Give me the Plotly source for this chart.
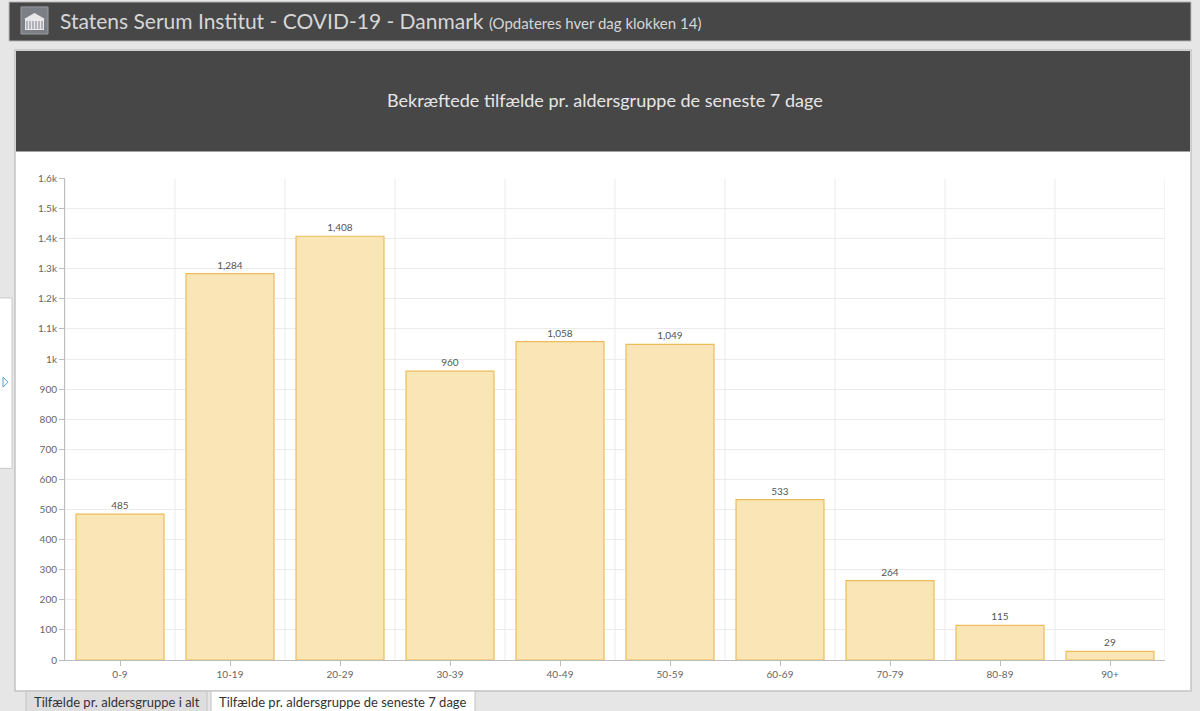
import plotly.graph_objects as go

age_groups = ["0-9", "10-19", "20-29", "30-39", "40-49", "50-59", "60-69", "70-79", "80-89", "90+"]
cases_7d = [485, 1284, 1408, 960, 1058, 1049, 533, 264, 115, 29]
y_tick_vals = [0, 100, 200, 300, 400, 500, 600, 700, 800, 900, 1000, 1100, 1200, 1300, 1400, 1500, 1600]
y_tick_text = ["0", "100", "200", "300", "400", "500", "600", "700", "800", "900",
               "1k", "1.1k", "1.2k", "1.3k", "1.4k", "1.5k", "1.6k"]

W, H = 1200, 711
FONT = "Lato"
# vertical compensation for the capture (observed: shown = 7.06 + 0.980 * drawn)
VA, VB = 7.06, 0.980


def px(x):
    return x / W


def py(y):
    yd = (y - VA) / VB
    return (H - yd) / H


def rect(x0, y0, x1, y1, fill, line=None, lw=1):
    return dict(type="rect", xref="paper", yref="paper",
                x0=px(x0), x1=px(x1), y0=py(y1), y1=py(y0),
                fillcolor=fill, line=dict(color=line or fill, width=lw if line else 0),
                layer="below")


fig = go.Figure()
fig.add_trace(go.Bar(
    x=age_groups, y=cases_7d,
    marker=dict(color="#fae5b6", line=dict(color="#ecbd5a", width=1.2)),
    text=[f"{v:,}" for v in cases_7d], textposition="outside",
    textfont=dict(size=10, color="#555555", family=FONT),
    cliponaxis=False, hoverinfo="x+y",
))

shapes = [
    rect(-5, -20, 1210, 740, "#e6e6e6"),
    rect(9, 3, 1191, 42, "#474747", "#bdbdbd", 1),
    rect(21, 8, 48, 35, "#7d7f86", "#9a9ca3", 1),
    rect(15, 51, 1191, 690, "#ffffff", "#c4c4c4", 1.5),
    rect(16, 52, 1190, 152, "#474747"),
    rect(-2, 298, 12, 468, "#ffffff", "#c8c8c8", 1),
    rect(26, 690, 207, 715, "#dedede", "#c2c2c2", 1),
    rect(211, 690, 475, 715, "#ffffff", "#c2c2c2", 1),
]
shapes.append(dict(type="rect", xref="paper", yref="paper", x0=px(25), x1=px(44), y0=py(31), y1=py(20),
                   fillcolor="#e8e8ea", line=dict(width=0), layer="above"))
shapes.append(dict(type="path", xref="paper", yref="paper",
                   path=f"M {px(24)},{py(20)} L {px(34.5)},{py(14)} L {px(45)},{py(20)} Z",
                   fillcolor="#e8e8ea", line=dict(width=0), layer="above"))
for cx in [27, 30, 33, 36, 39, 42]:
    shapes.append(dict(type="line", xref="paper", yref="paper", x0=px(cx), x1=px(cx), y0=py(22), y1=py(30),
                       line=dict(color="#7d7f86", width=1), layer="above"))
shapes.append(dict(type="path", xref="paper", yref="paper",
                   path=f"M {px(3)},{py(377)} L {px(8)},{py(382)} L {px(3)},{py(387)} Z",
                   fillcolor="rgba(0,0,0,0)", line=dict(color="#5a9fd4", width=1), layer="above"))

annotations = [
    dict(x=px(58), y=py(22), xref="paper", yref="paper", xanchor="left", yanchor="middle",
         showarrow=False,
         text="Statens Serum Institut - COVID-19 - Danmark <span style='font-size:15px'>(Opdateres hver dag klokken 14)</span>",
         font=dict(size=21, color="#d6d6d6", family=FONT)),
    dict(x=px(605), y=py(101), xref="paper", yref="paper", xanchor="center", yanchor="middle",
         showarrow=False, text="Bekræftede tilfælde pr. aldersgruppe de seneste 7 dage",
         font=dict(size=18, color="#e6e6e6", family=FONT)),
    dict(x=px(117), y=py(701), xref="paper", yref="paper", xanchor="center", yanchor="middle",
         showarrow=False, text="Tilfælde pr. aldersgruppe i alt",
         font=dict(size=13, color="#333333", family=FONT)),
    dict(x=px(343), y=py(701), xref="paper", yref="paper", xanchor="center", yanchor="middle",
         showarrow=False, text="Tilfælde pr. aldersgruppe de seneste 7 dage",
         font=dict(size=13, color="#333333", family=FONT)),
]

for i in range(len(age_groups) + 1):
    shapes.append(dict(type="line", xref="x", yref="y", x0=i - 0.5, x1=i - 0.5, y0=0, y1=1600,
                       line=dict(color="#ebebeb", width=1), layer="below"))

fig.update_layout(
    width=W, height=H, margin=dict(l=0, r=0, t=0, b=0, pad=0),
    paper_bgcolor="#e6e6e6", plot_bgcolor="rgba(0,0,0,0)",
    font=dict(family=FONT, color="#666666"),
    showlegend=False, bargap=0.2,
    shapes=shapes, annotations=annotations,
    xaxis=dict(domain=[px(65), px(1165)], range=[-0.5, 9.5], showgrid=False,
               showline=True, linecolor="#bdbdbd", linewidth=1,
               ticks="outside", ticklen=5, tickcolor="#bdbdbd",
               tickfont=dict(size=10, color="#666666", family=FONT)),
    yaxis=dict(domain=[py(659), py(179)], range=[0, 1600],
               tickvals=y_tick_vals, ticktext=y_tick_text,
               showgrid=True, gridcolor="#ebebeb", gridwidth=1,
               showline=True, linecolor="#bdbdbd", linewidth=1,
               ticks="outside", ticklen=5, tickcolor="#bdbdbd", zeroline=False,
               tickfont=dict(size=10, color="#666666", family=FONT)),
)

post = ("document.body.style.margin='0';document.body.style.padding='0';"
        "document.body.style.overflow='hidden';document.documentElement.style.overflow='hidden';"
        "document.body.style.background='#e6e6e6';document.documentElement.style.background='#e6e6e6';")
fig.write_html("out.html", post_script=post, config={"displayModeBar": False})
